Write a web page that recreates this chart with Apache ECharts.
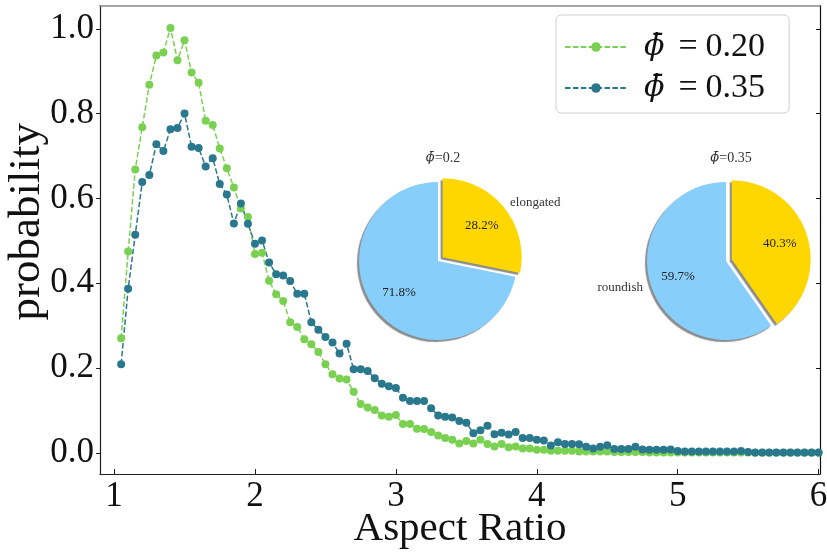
<!DOCTYPE html>
<html>
<head>
<meta charset="utf-8">
<script src="https://cdn.jsdelivr.net/npm/echarts@6/dist/echarts.min.js"></script>
<style>
html,body{margin:0;padding:0;background:#fff;}
#chart{width:827px;height:554px;}
</style>
</head>
<body>
<div id="chart"></div>
<script>
// ---- data ----
const aspectRatio = [1.05,1.10,1.15,1.20,1.25,1.30,1.35,1.40,1.45,1.50,1.55,1.60,1.65,1.70,1.75,1.80,1.85,1.90,1.95,2.00,
2.05,2.10,2.15,2.20,2.25,2.30,2.35,2.40,2.45,2.50,2.55,2.60,2.65,2.70,2.75,2.80,2.85,2.90,2.95,3.00,
3.05,3.10,3.15,3.20,3.25,3.30,3.35,3.40,3.45,3.50,3.55,3.60,3.65,3.70,3.75,3.80,3.85,3.90,3.95,4.00,
4.05,4.10,4.15,4.20,4.25,4.30,4.35,4.40,4.45,4.50,4.55,4.60,4.65,4.70,4.75,4.80,4.85,4.90,4.95,5.00,
5.05,5.10,5.15,5.20,5.25,5.30,5.35,5.40,5.45,5.50,5.55,5.60,5.65,5.70,5.75,5.80,5.85,5.90,5.95,6.00];

const probPhi020 = [0.270,0.475,0.668,0.768,0.868,0.937,0.944,1.002,0.926,0.973,0.897,0.873,0.783,0.773,0.718,0.671,0.626,0.576,0.556,0.469,
0.472,0.406,0.374,0.358,0.308,0.297,0.268,0.256,0.238,0.209,0.185,0.175,0.173,0.144,0.115,0.107,0.101,0.088,0.085,0.089,
0.068,0.068,0.057,0.056,0.049,0.041,0.035,0.031,0.022,0.028,0.022,0.031,0.021,0.015,0.021,0.013,0.015,0.010,0.010,0.007,
0.007,0.005,0.005,0.005,0.005,0.003,0.003,0.003,0.003,0.003,0.002,0.002,0.002,0.002,0.002,0.001,0.001,0.001,0.001,0.001,
0.001,0.001,0.001,0.001,0.001,0.001,0.001,0.001,0.001,0.001,0.000,0.000,0.000,0.000,0.000,0.000,0.000,0.000,0.000,0.000];

const probPhi035 = [0.209,0.387,0.514,0.639,0.655,0.728,0.712,0.763,0.766,0.800,0.722,0.719,0.675,0.695,0.634,0.609,0.541,0.588,0.540,0.493,
0.501,0.449,0.421,0.418,0.405,0.375,0.375,0.308,0.290,0.273,0.260,0.234,0.257,0.197,0.197,0.193,0.176,0.163,0.157,0.153,
0.130,0.122,0.122,0.122,0.105,0.088,0.085,0.083,0.075,0.071,0.046,0.053,0.064,0.044,0.047,0.043,0.049,0.035,0.035,0.031,
0.029,0.017,0.025,0.021,0.021,0.020,0.014,0.010,0.014,0.018,0.009,0.009,0.009,0.014,0.008,0.007,0.007,0.007,0.008,0.004,
0.003,0.003,0.003,0.003,0.003,0.003,0.003,0.003,0.004,0.002,0.001,0.001,0.001,0.001,0.001,0.001,0.001,0.001,0.001,0.001];

const seriesNames = ['\u03D5\u0304 = 0.20', '\u03D5\u0304 = 0.35'];
const xTicks = [1,2,3,4,5,6];
const yTicks = [0.0,0.2,0.4,0.6,0.8,1.0];

const pieCategories = ['elongated', 'roundish'];
const pieShares020 = [28.2, 71.8];
const pieShares035 = [40.3, 59.7];
const pieTitles = ['\u03D5\u0304=0.2', '\u03D5\u0304=0.35'];
const pieOuterLabels020 = ['elongated', ''];
const pieOuterLabels035 = ['', 'roundish'];

// ---- styles ----
const FONT = '"Liberation Serif", "DejaVu Serif", serif';
const PHI_FONT = '"DejaVu Serif", serif';
const GREEN = '#7AD151';
const BLUE = '#2A788E';
const PIE_COLORS = ['#FFD700', '#87CEFA'];

function phiRich(s){
  return '{phi|' + s.slice(0,2) + '}' + s.slice(2).replace(' = ', '{eq|=}');
}

function zip(xs, ys){ return xs.map((x,i)=>[x, ys[i]]); }

function lineSeries(name, values, color){
  return {
    type:'line', name: name, data: zip(aspectRatio, values),
    xAxisIndex:0, yAxisIndex:0,
    symbol:'circle', symbolSize:8, showSymbol:true,
    itemStyle:{color:color, borderWidth:0},
    lineStyle:{color:color, width:1.5, type:[5.5,2.4]},
    emphasis:{disabled:true}, z:3
  };
}

function pieSeries(shares, center, outerLabels){
  const r = 79;
  const base = {
    type:'pie', center:center, radius:r, startAngle:90, clockwise:true,
    selectedMode:'single', selectedOffset:6, animation:false,
    emphasis:{disabled:true}, silent:true, z:5
  };
  const filled = Object.assign({}, base, {
    data: pieCategories.map((c,i)=>({name:c, value:shares[i], selected:i===0,
      itemStyle:{color:PIE_COLORS[i]}})),
    itemStyle:{shadowColor:'rgba(0,0,0,0.45)', shadowBlur:1, shadowOffsetX:-2, shadowOffsetY:2},
    label:{show:false}, labelLine:{show:false}
  });
  const pct = Object.assign({}, base, {
    radius: r*1.2, z:6,
    data: pieCategories.map((c,i)=>({name:c, value:shares[i], selected:i===0,
      itemStyle:{color:'rgba(0,0,0,0)'}})),
    label:{show:true, position:'inside', fontFamily:FONT, fontSize:13, color:'#222',
      formatter: p => shares[p.dataIndex].toFixed(1) + '%'},
    labelLine:{show:false}
  });
  const outer = Object.assign({}, base, {
    z:6,
    data: pieCategories.map((c,i)=>({name:c, value:shares[i], selected:i===0,
      itemStyle:{color:'rgba(0,0,0,0)'}})),
    label:{show:true, position:'outside', fontFamily:FONT, fontSize:13, color:'#333',
      distanceToLabelLine:0, formatter: p => outerLabels[p.dataIndex]},
    labelLine:{show:false, length:8, length2:0}
  });
  return [filled, pct, outer];
}

const chart = echarts.init(document.getElementById('chart'), null, {renderer:'canvas'});

const titleStyle = {fontFamily:FONT, fontSize:14, fontWeight:'normal', color:'#333',
  rich:{phi:{fontFamily:PHI_FONT, fontStyle:'italic', fontSize:13, color:'#333'},
        eq:{fontFamily:FONT, fontSize:14, color:'#333'}}};

const option = {
  animation:false,
  backgroundColor:'#fff',
  textStyle:{fontFamily:FONT},
  title: [
    {text: phiRich(pieTitles[0]), left: 438, top: 146, textAlign:'center', textStyle:titleStyle},
    {text: phiRich(pieTitles[1]), left: 726, top: 146, textAlign:'center', textStyle:titleStyle}
  ],
  grid:{left:100, right:7, top:5.5, bottom:80, containLabel:false, outerBoundsMode:'none'},
  legend:{
    orient:'vertical', left:556, top:15,
    padding:[15,24,8,8], itemGap:7,
    itemWidth:62, itemHeight:12,
    backgroundColor:'#fff', borderColor:'#d0d0d0', borderWidth:1, borderRadius:5,
    formatter: name => phiRich(name),
    textStyle:{fontFamily:FONT, fontSize:34, lineHeight:34, color:'#111', padding:[0,0,0,12],
      rich:{phi:{fontFamily:PHI_FONT, fontStyle:'italic', fontSize:30, lineHeight:34, color:'#111'},
            eq:{fontFamily:FONT, fontSize:34, lineHeight:34, color:'#111', padding:[0,8,0,14]}}},
    data: seriesNames
  },
  xAxis:[
    {type:'value', min:0.9, max:6.01, position:'bottom',
     name:'Aspect Ratio', nameLocation:'middle', nameGap:35, nameMoveOverlap:false,
     nameTextStyle:{fontFamily:FONT, fontSize:41, color:'#111'},
     axisLine:{show:true, onZero:false, lineStyle:{color:'#222', width:1.2}},
     axisTick:{show:true, inside:true, length:5, customValues:xTicks, lineStyle:{color:'#222'}},
     axisLabel:{show:true, margin:5, customValues:xTicks, fontFamily:FONT, fontSize:35, color:'#111',
       formatter: v => String(Math.round(v))},
     splitLine:{show:false}},
    {type:'value', min:0.9, max:6.01, position:'top',
     axisLine:{show:true, onZero:false, lineStyle:{color:'#888', width:1.5}},
     axisTick:{show:false}, axisLabel:{show:false}, splitLine:{show:false}}
  ],
  yAxis:[
    {type:'value', min:-0.05, max:1.055, position:'left',
     name:'probability', nameLocation:'middle', nameGap:50, nameRotate:90, nameMoveOverlap:false,
     nameTextStyle:{fontFamily:FONT, fontSize:45, color:'#111', padding:[0,0,0,36]},
     axisLine:{show:true, onZero:false, lineStyle:{color:'#222', width:1.2}},
     axisTick:{show:true, inside:false, length:4, customValues:yTicks, lineStyle:{color:'#222'}},
     axisLabel:{show:true, margin:6, customValues:yTicks, fontFamily:FONT, fontSize:35, color:'#111',
       formatter: v => v.toFixed(1)},
     splitLine:{show:false}},
    {type:'value', min:-0.05, max:1.055, position:'right',
     axisLine:{show:true, onZero:false, lineStyle:{color:'#111', width:1.2}},
     axisTick:{show:true, inside:true, length:4, customValues:yTicks, lineStyle:{color:'#111'}},
     axisLabel:{show:false}, splitLine:{show:false}}
  ],
  series: [
    lineSeries(seriesNames[0], probPhi020, GREEN),
    lineSeries(seriesNames[1], probPhi035, BLUE),
    ...pieSeries(pieShares020, [438, 261], pieOuterLabels020),
    ...pieSeries(pieShares035, [726, 261], pieOuterLabels035)
  ]
};
chart.setOption(option);
</script>
</body>
</html>
